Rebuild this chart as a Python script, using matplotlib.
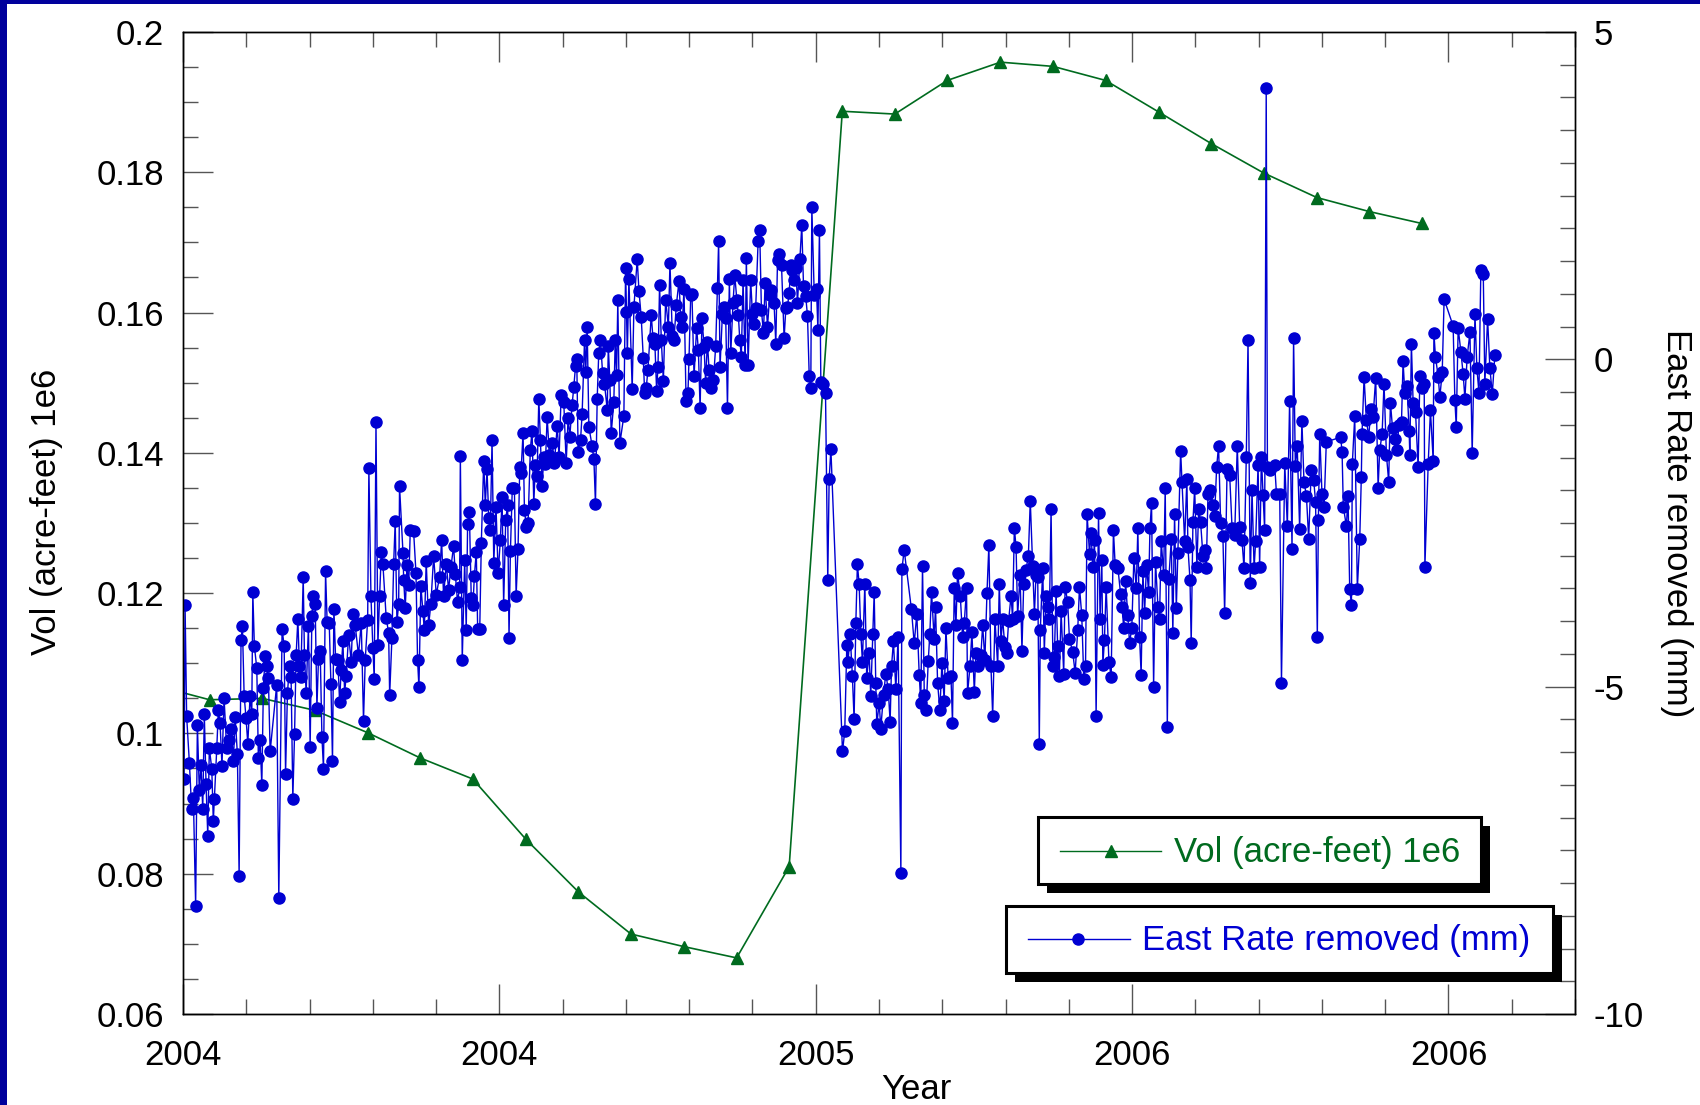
import numpy as np
import matplotlib
matplotlib.use("Agg")
import matplotlib.pyplot as plt
from matplotlib.ticker import MultipleLocator, FuncFormatter, FixedLocator
from matplotlib.patches import Rectangle
from matplotlib.lines import Line2D

plt.rcParams['font.family'] = ['Liberation Sans', 'DejaVu Sans']
plt.rcParams['axes.unicode_minus'] = False

# monthly reservoir volume (acre-feet, millions), mid-month decimal years
vol_dates = [2003.958, 2004.042, 2004.125, 2004.208, 2004.292, 2004.375, 2004.458,
             2004.542, 2004.625, 2004.708, 2004.792, 2004.875, 2004.958, 2005.042,
             2005.125, 2005.208, 2005.292, 2005.375, 2005.458, 2005.542, 2005.625,
             2005.708, 2005.792, 2005.875, 2005.958]
vol_acre_ft = [0.1068, 0.1048, 0.1050, 0.1033, 0.1001, 0.0965, 0.0935, 0.0849,
               0.0774, 0.0714, 0.0696, 0.0680, 0.0810, 0.1887, 0.1883, 0.1931,
               0.1957, 0.1951, 0.1931, 0.1886, 0.1841, 0.1799, 0.1764, 0.1744,
               0.1727]

# daily GPS east component, rate removed: days since 2004-01-01 and mm
east_day = [
    0.6, 1.2, 2.1, 3.7, 5.0, 6.0, 7.3, 8.3, 9.4, 10.4, 11.4, 12.3, 13.3, 14.3, 15.2,
    16.6, 17.5, 18.1, 19.5, 20.4, 21.4, 22.5, 23.7, 25.2, 26.8, 27.7, 29.1, 30.1, 31.4,
    32.4, 33.5, 34.3, 35.3, 36.4, 37.4, 38.7, 39.7, 40.3, 41.2, 42.6, 43.5, 44.5, 45.5,
    46.4, 47.4, 48.4, 49.3, 50.3, 54.1, 55.3, 57.2, 58.4, 59.2, 60.3, 61.5, 62.4, 63.4,
    64.4, 65.3, 66.3, 67.2, 68.0, 69.4, 70.1, 71.1, 72.4, 73.4, 74.4, 75.3, 76.3, 77.3,
    78.2, 79.2, 80.2, 81.1, 82.3, 83.2, 84.4, 85.4, 86.3, 87.1, 88.1, 89.4, 90.4, 91.3,
    92.3, 93.3, 94.2, 95.6, 97.1, 98.1, 99.4, 101.3, 102.9, 104.2, 105.2, 106.6, 107.3,
    108.5, 109.6, 110.4, 111.4, 112.5, 113.5, 114.5, 115.4, 117.3, 118.7, 119.3, 120.6,
    121.6, 122.5, 123.5, 124.5, 125.0, 127.0, 127.4, 128.3, 129.3, 130.3, 131.2,
    133.1, 134.5, 135.4, 136.2, 137.3, 138.5, 139.3, 140.4, 141.8, 143.1, 144.7, 146.2,
    148.1, 149.3, 150.4, 152.0, 153.3, 154.7, 156.2, 157.2, 158.5, 159.7, 160.1, 161.2,
    162.6, 163.5, 164.3, 165.3, 166.4, 167.4, 168.2, 169.3, 170.1, 171.3, 172.2, 173.6,
    174.5, 175.5, 176.5, 177.4, 178.4, 179.4, 180.7, 181.9, 183.2, 184.2, 185.1, 186.3,
    187.4, 188.2, 189.0, 190.1, 191.3, 192.3, 193.4, 194.4, 195.1, 196.3, 197.1, 198.2,
    199.2, 200.5, 201.5, 202.5, 203.4, 204.4, 205.4, 206.3, 207.3, 208.3, 209.2, 210.2,
    211.5, 213.1, 214.4, 216.0, 217.1, 218.3, 219.8, 221.2, 222.3, 223.3, 224.6, 225.6,
    226.6, 227.3, 228.1, 229.5, 230.4, 231.8, 232.5, 233.3, 234.3, 236.2, 237.2, 238.1,
    239.1, 240.0, 241.0, 242.2, 243.3, 244.9, 245.5, 246.4, 247.2, 248.7, 249.5, 250.3,
    251.0, 252.2,
    254.5, 255.5, 256.0, 256.5, 257.4, 259.3, 260.3, 262.2, 263.2, 264.5, 265.7, 266.5,
    267.4, 268.4, 270.3, 271.3, 272.4, 273.4, 274.2, 275.1, 276.1, 277.3, 278.6, 280.2,
    281.1, 282.5, 283.4, 284.8, 286.3, 287.3, 288.2, 289.2, 290.4, 291.5, 292.1, 293.1,
    293.8, 295.0, 296.5, 297.5, 298.5, 299.6, 300.8, 301.7, 302.7, 303.7, 305.0, 306.2,
    307.5, 308.5, 309.2, 310.0, 311.4, 312.3, 313.3, 314.3, 315.4, 316.2, 317.5, 318.5,
    319.7, 320.6, 321.4, 322.3, 323.3, 324.5, 325.2, 326.2, 327.7, 328.7, 329.7, 330.6,
    332.0, 332.9, 333.9, 335.1, 336.0, 337.4, 338.7, 339.7, 341.2, 342.2, 343.2, 344.1,
    345.5, 347.0, 348.0, 348.9, 349.9, 350.9, 351.8, 352.8, 353.8, 354.7, 356.1, 357.2,
    358.2, 359.5, 360.5, 361.5, 362.4, 363.0, 364.4, 365.7, 366.5, 367.4, 368.2, 369.7,
    370.9, 372.2, 373.0, 374.0,
    380.7, 382.0, 383.2, 383.9, 385.1, 386.4, 387.4, 388.4, 389.3, 390.3, 391.3, 392.2,
    393.6, 394.7, 396.1, 397.0, 398.2, 399.0, 399.9, 400.5, 401.9, 402.8, 404.4, 405.7,
    407.1, 408.2, 409.0, 410.1, 411.5, 412.8, 414.4, 415.0, 416.3, 420.5, 422.1, 423.6,
    425.0, 425.9, 426.9, 427.9, 429.0, 430.2, 431.1, 432.1, 433.6, 434.4, 435.6, 436.9,
    438.1, 439.4, 440.4, 441.7, 443.3, 444.2, 445.2, 446.2, 447.1, 448.7, 450.0, 451.0,
    452.3, 452.9, 454.3, 455.4, 456.8, 457.7, 459.1, 460.6, 461.6, 462.9, 464.1, 465.2,
    466.4, 467.4, 468.7, 470.3, 471.2, 472.2, 473.1, 474.5, 475.5, 476.6, 478.0, 478.9,
    479.9, 480.9, 481.8, 483.2, 484.3, 485.3, 486.6, 488.0, 489.1, 490.5, 491.5, 492.4,
    493.4, 494.3, 494.9, 496.3, 497.2, 498.2, 499.2, 500.1, 501.1, 502.2, 503.0, 504.0,
    504.9, 505.9, 506.9, 508.4, 509.2, 510.7, 511.7,
    513.6, 515.0, 516.5, 517.5, 518.8, 520.0, 521.0, 521.9, 523.3, 524.2, 525.2, 526.2,
    527.1, 528.5, 529.4, 530.4, 531.0, 531.9, 532.9, 534.5, 535.8, 537.1, 538.1, 539.7,
    541.2, 542.0, 543.1, 544.1, 545.4, 546.4, 547.7, 548.9, 550.3, 551.2, 552.2, 553.1,
    554.1, 555.1, 556.2, 557.4, 558.2, 559.1, 560.3, 561.4, 562.8, 563.7, 564.7, 566.1,
    567.0, 568.2, 569.1, 570.5, 571.4, 572.4, 573.4, 574.3, 575.9, 576.7, 578.2, 579.5,
    580.1, 581.3, 582.0, 583.0, 584.0, 585.3, 586.3, 587.4, 588.8, 589.8, 590.7, 591.7,
    593.0, 594.6, 595.5, 596.7, 597.8, 599.0, 600.3, 601.3, 602.7, 604.2, 605.6, 607.1,
    608.6, 610.0, 611.3, 612.5, 613.8, 614.8, 616.1, 617.1, 618.3, 619.2, 620.6, 621.5,
    622.5, 623.5, 624.4, 625.3, 626.0, 627.5, 630.2, 631.2, 633.1, 634.1, 636.0, 637.5,
    638.8, 640.2, 641.1, 642.1, 643.2, 644.6, 645.9, 647.1, 648.5, 649.8, 651.3, 652.7,
    653.8, 654.8, 655.4, 656.2, 657.5, 658.7, 660.0, 668.3, 669.1, 669.8, 671.6, 672.5,
    673.5, 674.5, 675.0, 676.4, 677.9, 679.3, 680.2, 680.6, 681.8, 683.1, 684.5, 685.6,
    687.0, 688.5, 689.9, 690.8, 692.2, 693.3, 694.7, 696.0, 697.0, 698.2, 699.5, 700.9,
    701.8, 703.4, 704.3, 705.3, 706.6, 707.8, 708.2, 709.1, 710.1, 711.5, 713.0, 714.0,
    715.3, 716.5, 716.9, 718.8, 720.1, 721.7, 722.1, 723.0, 724.6, 725.5, 726.9, 728.0,
    733.2, 734.2, 735.0, 736.1, 737.7, 739.0, 740.0, 741.3, 742.9, 744.2, 745.8, 746.9,
    748.1, 749.2, 750.6, 751.5, 753.1, 754.4, 755.8, 757.3]
east_mm = [
    -6.41, -3.76, -5.45, -6.17, -6.87, -6.70, -8.35, -5.58, -6.58, -6.20, -6.87, -5.42,
    -6.48, -7.28, -5.94, -6.25, -7.05, -6.71, -5.94, -5.36, -5.56, -6.21, -5.17, -5.94,
    -5.81, -5.64, -6.14, -5.46, -6.03, -7.89, -4.29, -4.08, -5.14, -5.48, -5.87, -5.15,
    -5.41, -3.56, -4.38, -4.72, -6.09, -5.82, -6.50, -5.02, -4.53, -4.69, -4.87, -5.99,
    -4.97, -8.23, -4.12, -4.38, -6.33, -5.09, -4.68, -4.85, -6.71, -5.72, -4.52, -3.97,
    -4.69, -4.85, -3.32, -4.52, -5.10, -4.07, -5.92, -3.92, -3.62, -3.74, -5.33, -4.58,
    -4.46, -5.77, -6.25, -3.24, -4.01, -4.02, -4.96, -6.14, -3.81, -4.58, -4.59, -5.24,
    -4.74, -4.31, -5.09, -4.84, -4.21, -4.62, -3.89, -4.06, -4.52, -4.02, -5.52, -4.59,
    -3.98, -1.66, -3.62, -4.41, -4.89, -0.95, -4.36, -3.61, -2.95, -3.13, -3.95, -4.18,
    -5.13, -4.26, -3.13, -2.47, -4.01, -3.74, -1.94, -2.96, -3.37, -3.80, -3.14, -3.45,
    -2.61,
    -2.62, -3.27, -4.59, -5.01, -3.46, -3.85, -4.14, -3.08, -4.06, -3.73, -3.00, -3.60,
    -3.32, -2.76, -3.62, -3.12, -3.52, -3.17, -2.85, -3.28, -3.71, -3.47, -1.47, -4.60,
    -3.06, -4.13, -2.51, -2.33, -3.65, -3.75, -3.31, -2.94, -4.12, -4.12, -2.81, -1.56,
    -2.22, -1.68, -2.43, -2.61, -1.23, -3.11, -2.25, -3.27, -2.76, -2.11, -3.75, -2.45,
    -2.22, -4.26, -2.93, -1.96, -1.97, -3.61, -2.90, -1.64, -1.74, -1.12, -2.30, -2.56,
    -2.50, -1.38, -1.09, -2.21, -1.61, -1.78, -0.60, -1.23, -1.93, -1.49, -1.60, -0.88,
    -1.46, -1.28, -1.59, -1.02, -1.49, -0.54, -0.65, -1.58, -0.90, -1.18, -0.70, -0.42,
    -0.10, 0.00, -1.41, -1.23, -0.83, 0.30, -0.20, 0.50, -1.03, -1.33, -1.53, -2.21,
    -0.60, 0.10, 0.30, -0.21, -0.37, -0.77, 0.20, -0.32, -1.13, -0.65, 0.30, -0.24,
    0.90, -1.28,
    -0.86, 1.39, 0.73, 0.09, 1.23, -0.46, 0.80, 1.53, 1.05, 0.65, 0.02, -0.52,
    -0.44, -0.16, 0.68, 0.32, 0.24, -0.48, -0.11, 1.13, 0.30, -0.33, 0.91, 0.50,
    1.47, 0.35, 0.30, 0.83, 1.19, 0.65, 0.50, 1.08, -0.63, -0.51, 0.01, 0.98,
    1.00, -0.26, 0.48, 0.14, -0.75, 0.63, 0.19, -0.36, 0.27, -0.16, -0.44, -0.32,
    0.20, 1.09, 1.81, -0.12, 0.70, 0.80, 0.63, -0.74, 1.22, 0.09, 0.86, 1.29,
    0.91, 0.67, 0.30, 0.04, 1.21, -0.09, 1.55, -0.09, 1.21, 0.70, 0.54, 0.79,
    1.81, 1.98, 0.75, 0.40, 1.16, 0.50, 0.98, 1.06, 0.86, 0.24, 1.52, 1.61,
    1.44, 0.32, 0.78, 0.80, 1.01, 1.44, 1.36, 1.21, 1.39, 0.86, 1.54, 2.05,
    1.12, 0.96, 0.66, -0.26, -0.44, 2.33, 0.98, 1.08, 0.45, 1.97, -0.34, -0.37,
    -0.52, -3.37, -1.83, -1.37,
    -5.99, -5.68, -4.36, -4.62, -4.20, -4.83, -5.50, -4.03, -3.13, -3.43, -4.20, -4.62,
    -3.43, -4.87, -4.48, -5.15, -4.20, -3.56, -4.94, -5.57, -5.25, -5.64, -5.12, -4.80,
    -5.04, -5.54, -4.69, -4.31, -5.04, -4.24, -7.85, -3.21, -2.91, -3.82, -4.34, -3.89,
    -4.82, -5.25, -3.15, -5.12, -5.36, -4.61, -4.20, -3.55, -4.27, -3.78, -4.94, -5.36,
    -4.64, -5.22, -4.10, -4.87, -4.83, -5.55, -3.49, -4.06, -3.26, -3.61, -4.24, -4.03,
    -3.50, -5.10, -4.69, -4.17, -5.08, -4.48, -4.68, -4.52, -4.06, -4.59, -3.57, -2.84,
    -4.68, -5.45, -3.96, -4.69, -3.43, -4.31, -3.96, -4.40, -4.48, -3.99, -3.61, -3.96,
    -2.57, -2.87, -3.92, -3.29, -4.45, -3.43, -3.22, -3.00, -2.16, -3.15, -3.89, -3.29,
    -3.33, -5.87, -4.13, -3.19, -4.48, -3.61, -3.78, -3.96, -2.29, -4.69, -4.55, -3.54,
    -4.38, -4.83, -3.85, -4.80, -3.47, -3.71, -4.27,
    -4.47, -4.79, -4.13, -3.48, -3.90, -4.89, -4.68, -2.37, -2.97, -2.66, -3.17, -2.76,
    -5.45, -2.35, -3.96, -3.06, -4.67, -4.29, -3.47, -4.62, -4.85, -2.61, -3.14, -3.19,
    -3.58, -3.78, -4.11, -3.39, -3.91, -4.33, -4.11, -3.04, -3.50, -2.58, -4.24, -4.82,
    -3.24, -3.87, -3.14, -3.55, -2.58, -2.19, -5.00, -3.09, -3.78, -3.96, -2.77, -3.29,
    -1.96, -5.61, -3.35, -2.75, -4.18, -2.36, -3.80, -2.96, -1.40, -1.87, -2.78, -1.83,
    -2.86, -3.37, -4.33, -2.48, -1.97, -3.17, -2.29, -2.48, -3.01, -2.91, -3.19, -2.05,
    -1.99, -2.22, -2.40, -1.64, -1.32, -2.50, -2.70, -3.88, -1.68, -1.77, -2.58, -2.68,
    -1.32, -2.56, -2.76, -3.19, -1.49, 0.29, -3.42, -1.99, -3.19, -2.78, -1.61, -3.17,
    -1.49, -2.07, -2.61, 4.14, -1.64, -1.69, -1.61, -2.05, -2.05, -4.94, -1.59, -2.55,
    -0.64, -2.89, 0.33, -1.63, -1.33, -2.59, -0.94, -1.87, -2.08, -2.74, -1.69, -1.84,
    -2.18, -4.24, -2.45, -1.14, -2.06, -2.25, -1.26, -1.19, -1.42, -2.25, -2.55, -2.08,
    -3.51, -3.75, -1.60, -0.87, -3.51, -2.74, -1.80, -1.14, -0.27, -0.92, -1.19, -0.76,
    -0.88, -0.28, -1.96, -1.39, -1.14, -0.37, -1.46, -1.87, -0.66, -1.05, -1.22, -1.39,
    -1.01, -0.95, -0.03, -0.51, -0.41, -1.09, -1.46, 0.24, -0.66, -0.81, -1.65, -0.26,
    -0.44, -0.37, -3.17, -1.60, -0.78, -1.55, 0.40, 0.04, -0.27, -0.58, -0.20, 0.92,
    0.51, -0.62, -1.03, 0.48, 0.11, -0.23, -0.60, 0.04, 0.41, -1.43, 0.69, -0.13,
    -0.51, 1.37, 1.30, -0.37, 0.62, -0.13, -0.53, 0.07]

year_ticks = [2004.0, 2004.5, 2005.0, 2005.5, 2006.0]
year_labels = ['2004', '2004', '2005', '2006', '2006']

vol_color = '#006b1f'
east_color = '#0000d2'

W, H = 1700, 1105
fig = plt.figure(figsize=(W / 100, H / 100), dpi=100)
ax = fig.add_axes([183 / W, 1 - 1014 / H, (1575 - 183) / W, (1014 - 32) / H])
ax2 = ax.twinx()

east_year = 2004 + np.array(east_day) / 365.25

ax.plot(vol_dates, vol_acre_ft, color=vol_color, lw=1.2, marker='^', ms=8.5,
        mec=vol_color, mfc=vol_color, clip_on=True)
ax2.plot(east_year, east_mm, color=east_color, lw=1.0, marker='o', ms=8,
         mec=east_color, mfc=east_color)

ax.set_xlim(2004.0, 2006.2)
ax.set_ylim(0.06, 0.2)
ax2.set_ylim(-10, 5)

ax.xaxis.set_major_locator(FixedLocator(year_ticks))
ax.set_xticklabels(year_labels)
ax.xaxis.set_minor_locator(MultipleLocator(0.1))
ax.yaxis.set_major_locator(MultipleLocator(0.02))
ax.yaxis.set_minor_locator(MultipleLocator(0.005))
ax.yaxis.set_major_formatter(FuncFormatter(lambda v, p: f'{v:g}'))
ax2.yaxis.set_major_locator(MultipleLocator(5))
ax2.yaxis.set_minor_locator(MultipleLocator(0.5))
ax2.yaxis.set_major_formatter(FuncFormatter(lambda v, p: f'{v:g}'))

tick_kw = dict(direction='in', width=1, color='#555555', labelsize=25)
ax.tick_params(axis='x', which='both', top=True, bottom=True, pad=18, **tick_kw)
ax.tick_params(axis='y', which='both', left=True, right=False, pad=13.5, **tick_kw)
ax2.tick_params(axis='y', which='both', left=False, right=True, pad=13.5, **tick_kw)
for a in (ax, ax2):
    a.tick_params(which='major', length=21.6)
    a.tick_params(which='minor', length=10.8)
    for s in a.spines.values():
        s.set_linewidth(1.0)
        s.set_color('black')

ax.set_xlabel('Year', fontsize=25, va='baseline')
ax.xaxis.set_label_coords(0.5266, -0.0866)
ax.set_ylabel('Vol (acre-feet) 1e6', fontsize=25)
ax.yaxis.set_label_coords(-0.086, 0.511)
ax2.set_ylabel('East Rate removed (mm)', fontsize=25, rotation=270, va='center')
ax2.yaxis.set_label_coords(1.073, 0.5)


def fx(x):
    return x / W


def fy(y):
    return 1 - y / H


def legend_box(x0, y0, x1, y1, line_y, lx0, lx1, mx, tx, ty, color, marker, ms, text):
    fig.add_artist(Rectangle((fx(x0 + 9), fy(y1 + 9)), fx(x1 - x0), (y1 - y0) / H,
                             transform=fig.transFigure, facecolor='black',
                             edgecolor='black', lw=0))
    fig.add_artist(Rectangle((fx(x0), fy(y1)), fx(x1 - x0), (y1 - y0) / H,
                             transform=fig.transFigure, facecolor='white',
                             edgecolor='black', lw=2.2))
    fig.add_artist(Line2D([fx(lx0), fx(lx1)], [fy(line_y), fy(line_y)],
                          transform=fig.transFigure, color=color, lw=1.0))
    fig.add_artist(Line2D([fx(mx)], [fy(line_y)], transform=fig.transFigure,
                          color=color, marker=marker, ms=ms, lw=0))
    fig.text(fx(tx), fy(ty), text, color=color, fontsize=25, ha='left', va='baseline')


legend_box(1038, 817, 1481, 884, 851, 1060, 1161, 1111, 1174, 862,
           vol_color, '^', 8.5, 'Vol (acre-feet) 1e6')
legend_box(1006, 906, 1553, 973, 939, 1028, 1130, 1078, 1142, 950,
           east_color, 'o', 8, 'East Rate removed (mm)')

# slide frame along the left and top edges
frame_color = '#00009c'
fig.add_artist(Rectangle((0, 0), fx(7), 1, transform=fig.transFigure,
                         facecolor=frame_color, lw=0))
fig.add_artist(Rectangle((0, fy(4)), 1, 4 / H, transform=fig.transFigure,
                         facecolor=frame_color, lw=0))

fig.savefig('out.png', dpi=100, facecolor='white')
